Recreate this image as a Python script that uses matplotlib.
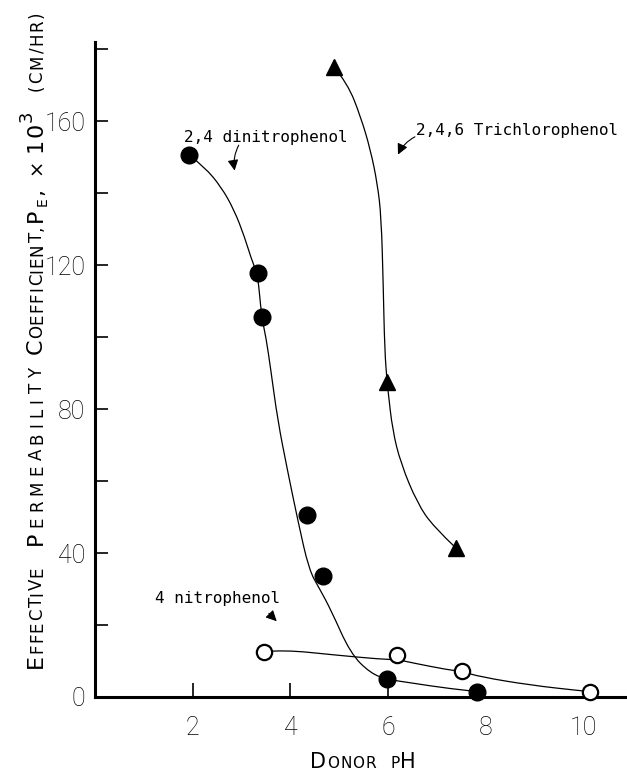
import matplotlib
matplotlib.use("Agg")
import matplotlib.pyplot as plt
from matplotlib.path import Path
from matplotlib.patches import PathPatch

# measured points
dnp_ph = [1.93, 3.33, 3.41, 4.35, 4.66, 5.98, 7.82]
dnp_pe = [150.6, 117.7, 105.6, 50.6, 33.6, 5.0, 1.5]

np_ph = [3.46, 6.19, 7.51, 10.13]
np_pe = [12.6, 11.7, 7.1, 1.5]

tcp_ph = [4.89, 5.98, 7.39]
tcp_pe = [175.1, 87.5, 41.4]

# hand drawn curves
dnp_curve_ph = [1.93, 2.24, 2.58, 2.85, 3.06, 3.23, 3.33, 3.41, 3.5, 3.6, 3.74, 3.94, 4.15,
                4.38, 4.6, 4.83, 5.23, 5.64, 5.98, 6.53, 7.21, 7.82]
dnp_curve_pe = [150.6, 147.3, 141.8, 135.3, 127.9, 120.5, 117.7, 105.6, 100, 90.8, 76.9, 63, 49.2,
                35.3, 30, 24.2, 12.1, 6.6, 4.9, 3.8, 2.4, 1.5]

np_curve_ph = [3.46, 3.87, 4.89, 5.85, 6.19, 6.53, 7.21, 7.51, 7.89, 8.91, 9.93, 10.13]
np_curve_pe = [12.6, 13.1, 11.7, 10.5, 10.4, 9.4, 7.6, 7.1, 5.6, 3.3, 1.75, 1.5]

tcp_curve_ph = [4.89, 5.17, 5.44, 5.64, 5.78, 5.86, 5.90, 5.93, 5.98, 6.0, 6.09, 6.26, 6.6, 6.93, 7.39]
tcp_curve_pe = [175.1, 170.5, 161.2, 152, 142.7, 133.4, 114.9, 96.4, 87.5, 85, 74.2, 64.9, 53.8, 47.3, 41.4]

yticks = [0, 20, 40, 60, 80, 100, 120, 140, 160, 180]
ylabels = ["0", "", "40", "", "80", "", "120", "", "160", ""]
xticks = [2, 4, 6, 8, 10]

sans = ["Roboto", "DejaVu Sans"]
lab = ["DejaVu Sans"]
mono = ["DejaVu Sans Mono"]

fig = plt.figure(figsize=(6.27, 7.74), dpi=100)
ax = fig.add_axes([95 / 627, 1 - 697 / 774, 530 / 627, 655 / 774])


def smooth_line(xs, ys):
    # quadratic bezier through midpoints, the traced points act as control points
    pts = list(zip(xs, ys))
    verts = [pts[0]]
    codes = [Path.MOVETO]
    for i in range(1, len(pts) - 1):
        nxt = pts[i + 1] if i == len(pts) - 2 else ((pts[i][0] + pts[i + 1][0]) / 2,
                                                     (pts[i][1] + pts[i + 1][1]) / 2)
        verts += [pts[i], nxt]
        codes += [Path.CURVE3, Path.CURVE3]
    ax.add_patch(PathPatch(Path(verts, codes), fill=False, lw=0.9, ec="black", zorder=2))


smooth_line(dnp_curve_ph, dnp_curve_pe)
smooth_line(np_curve_ph, np_curve_pe)
smooth_line(tcp_curve_ph, tcp_curve_pe)

ax.plot(dnp_ph, dnp_pe, "o", ms=12, color="black", clip_on=False, zorder=3)
ax.plot(np_ph, np_pe, "o", ms=11, mfc="white", mec="black", mew=1.6, clip_on=False, zorder=3)
ax.plot(tcp_ph, tcp_pe, "^", ms=12, color="black", clip_on=False, zorder=3)

ax.set_xlim(0, 10.85)
ax.set_ylim(0, 182)
for s in ["top", "right"]:
    ax.spines[s].set_visible(False)
for s in ["left", "bottom"]:
    ax.spines[s].set_linewidth(2.2)

ax.set_yticks(yticks)
ax.set_yticklabels(ylabels, family=sans, fontsize=18, fontweight="light")
ax.set_xticks(xticks)
ax.set_xticklabels([str(t) for t in xticks], family=sans, fontsize=18, fontweight="light")
ax.tick_params(axis="y", direction="in", length=9, width=1.2, pad=7)
ax.tick_params(axis="x", direction="in", length=10, width=1.2, pad=14)
for t in ax.xaxis.get_major_ticks()[3:]:
    t.tick1line.set_visible(False)

# annotations
ax.text(1.82, 155.5, "2,4 dinitrophenol", family=mono, fontsize=11.5, va="center")
ax.annotate("", xy=(2.87, 145.5), xytext=(2.97, 154),
            arrowprops=dict(arrowstyle="-|>", color="black", lw=0.8, mutation_scale=16,
                            connectionstyle="arc3,rad=0.2"))
ax.text(6.58, 157.5, "2,4,6 Trichlorophenol", family=mono, fontsize=11.5, va="center")
ax.annotate("", xy=(6.18, 150), xytext=(6.6, 156),
            arrowprops=dict(arrowstyle="-|>", color="black", lw=0.8, mutation_scale=16,
                            connectionstyle="arc3,rad=0.2"))
ax.text(1.22, 27.5, "4 nitrophenol", family=mono, fontsize=11.5, va="center")
ax.annotate("", xy=(3.76, 20.5), xytext=(3.52, 23.8),
            arrowprops=dict(arrowstyle="-|>", color="black", lw=0.8, mutation_scale=16))

# small caps style axis labels, letter by letter, spread to the length seen in the figure
renderer = fig.canvas.get_renderer()
W, H = 627.0, 774.0


def small_caps(pieces, x0, y0, length, vertical):
    chars = [(c, size, off) for txt, size, off in pieces for c in txt]
    texts, sizes = [], []
    for c, size, off in chars:
        if vertical:
            t = fig.text((x0 - off) / W, y0 / H, c, fontsize=size, family=lab,
                         rotation=90, rotation_mode="anchor", ha="left", va="baseline")
            sizes.append(t.get_window_extent(renderer).height)
        else:
            t = fig.text(x0 / W, (y0 + off) / H, c, fontsize=size, family=lab,
                         ha="left", va="baseline")
            sizes.append(t.get_window_extent(renderer).width)
        texts.append(t)
    gap = (length - sum(sizes)) / max(len(texts) - 1, 1) if length else 1.0
    gap = max(gap, 1.0)
    pos = y0 if vertical else x0
    for t, s in zip(texts, sizes):
        if vertical:
            t.set_y(pos / H)
        else:
            t.set_x(pos / W)
        pos += s + gap


big, small = 16, 12
base_x = 42
# (start pixel from top, length in pixels, pieces)
ygroups = [
    (668, 101, [("E", big, 0), ("FFECTIVE", small, 0)]),
    (545, 177, [("P", big, 0), ("ERMEABILITY", small, 0)]),
    (354, 118, [("C", big, 0), ("OEFFICIENT,", small, 0)]),
    (222, 34, [("P", big, 0), ("E", 10, -5), (",", big, 0)]),
    (175, 0, [("×", 14, 0)]),
    (152, 40, [("10", big, 0), ("3", 13, 10)]),
    (91, 80, [("(CM/HR)", small, 0)]),
]
for start, length, pieces in ygroups:
    small_caps(pieces, base_x, H - start, length, True)

xgroups = [
    (310, 0, [("D", 15, 0), ("ONOR", 11, 0)]),
    (390, 0, [("P", 11, 0), ("H", 15, 0)]),
]
for start, length, pieces in xgroups:
    small_caps(pieces, start, 6, length, False)

fig.savefig("out.png", dpi=100)
